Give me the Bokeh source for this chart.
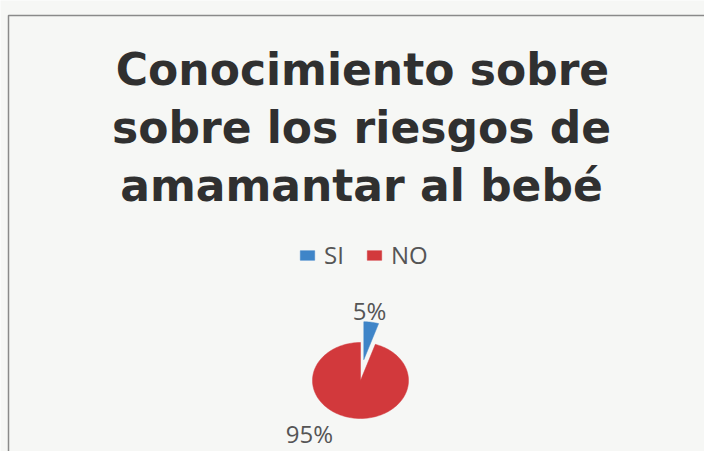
import math
from bokeh.plotting import figure
from bokeh.models import Range1d, Legend, LegendItem
from bokeh.core.properties import value
from bokeh.embed import file_html
from bokeh.resources import INLINE

# ---- data ----
categories = ["SI", "NO"]
values = [5, 95]
colors = ["#3f85c8", "#d2393c"]
title_lines = ["Conocimiento sobre", "sobre los riesgos de", "amamantar al bebé"]

W, H = 704, 451
p = figure(width=W, height=H, output_backend="svg", toolbar_location=None,
           x_range=Range1d(0, W), y_range=Range1d(H, 0),
           min_border=0)
p.axis.visible = False
p.grid.visible = False
p.outline_line_color = None
p.background_fill_color = "#f6f7f5"
p.border_fill_color = "#f6f7f5"

# chart box border
p.quad(left=[8], right=[720], top=[15], bottom=[470], fill_color=None,
       line_color="#8a8a8a", line_width=1.5)

# title
p.text(x=[362, 361, 361], y=[69, 127, 185], text=title_lines,
       text_font=value("DejaVu Sans"), text_font_style="bold", text_font_size="44px",
       text_color="#303030", text_align="center", text_baseline="middle")

# pie (slightly elliptical as in the scan)
cx, cy, rx, ry = 360, 380, 48, 38
explode = [21, 0]
total = sum(values)
start = 0.0
renderers = []
for cat, v, col, ex in zip(categories, values, colors, explode):
    a0 = start / total * 2 * math.pi
    a1 = (start + v) / total * 2 * math.pi
    mid = (a0 + a1) / 2
    ox, oy = ex * math.sin(mid), -ex * math.cos(mid)
    n = max(4, int(v * 2))
    xs = [cx + ox] + [cx + ox + rx * math.sin(a0 + (a1 - a0) * i / n) for i in range(n + 1)]
    ys = [cy + oy] + [cy + oy - ry * math.cos(a0 + (a1 - a0) * i / n) for i in range(n + 1)]
    r = p.patch(xs, ys, fill_color=col, line_color=col, line_width=0.5)
    renderers.append(r)
    start += v

# percentage labels
pct = [f"{round(v / total * 100)}%" for v in values]
p.text(x=[369, 309], y=[310, 433], text=pct, text_font=value("Open Sans"),
       text_font_size="24px", text_color="#555555", text_align="center",
       text_baseline="middle")

legend = Legend(items=[LegendItem(label=c, renderers=[r]) for c, r in zip(categories, renderers)],
                orientation="horizontal", location=(298, 180),
                glyph_width=18, glyph_height=12, label_text_font="Open Sans",
                label_text_font_size="24px", label_text_color="#555555",
                label_standoff=8, spacing=21, padding=0, margin=0,
                background_fill_alpha=0, border_line_color=None)
p.add_layout(legend, "center")

open("out.html", "w").write(file_html(p, INLINE))
